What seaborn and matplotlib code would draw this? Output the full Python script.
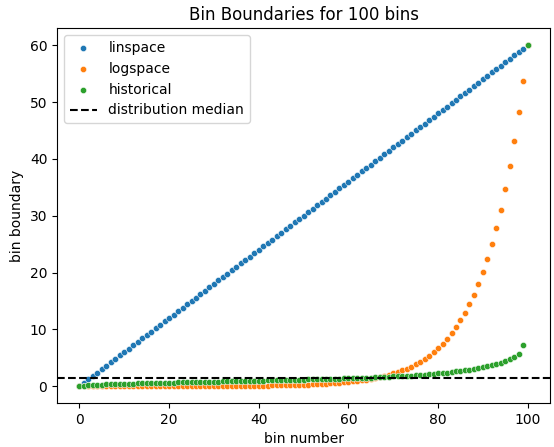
import pandas as pd
import seaborn as sns
import matplotlib.pyplot as plt

# valores
bin_number = list(range(101))

linspace = [0.0, 0.6, 1.2, 1.8, 2.4, 3.0, 3.6, 4.2, 4.8, 5.4,
            6.0, 6.6, 7.2, 7.8, 8.4, 9.0, 9.6, 10.2, 10.8, 11.4,
            12.0, 12.6, 13.2, 13.8, 14.4, 15.0, 15.6, 16.2, 16.8, 17.4,
            18.0, 18.6, 19.2, 19.8, 20.4, 21.0, 21.6, 22.2, 22.8, 23.4,
            24.0, 24.6, 25.2, 25.8, 26.4, 27.0, 27.6, 28.2, 28.8, 29.4,
            30.0, 30.6, 31.2, 31.8, 32.4, 33.0, 33.6, 34.2, 34.8, 35.4,
            36.0, 36.6, 37.2, 37.8, 38.4, 39.0, 39.6, 40.2, 40.8, 41.4,
            42.0, 42.6, 43.2, 43.8, 44.4, 45.0, 45.6, 46.2, 46.8, 47.4,
            48.0, 48.6, 49.2, 49.8, 50.4, 51.0, 51.6, 52.2, 52.8, 53.4,
            54.0, 54.6, 55.2, 55.8, 56.4, 57.0, 57.6, 58.2, 58.8, 59.4,
            60.0]

logspace = [0.0, 0.0, 0.0, 0.0, 0.0, 0.0, 0.0, 0.0, 0.0, 0.0,
            0.0, 0.0, 0.0, 0.0, 0.0, 0.0, 0.01, 0.01, 0.01, 0.01,
            0.01, 0.01, 0.01, 0.01, 0.01, 0.02, 0.02, 0.02, 0.02, 0.02,
            0.03, 0.03, 0.03, 0.04, 0.04, 0.05, 0.05, 0.06, 0.06, 0.07,
            0.08, 0.09, 0.10, 0.12, 0.13, 0.14, 0.16, 0.18, 0.20, 0.22,
            0.25, 0.28, 0.31, 0.34, 0.38, 0.43, 0.48, 0.53, 0.60, 0.67,
            0.74, 0.83, 0.93, 1.03, 1.15, 1.29, 1.44, 1.60, 1.79, 1.99,
            2.23, 2.48, 2.77, 3.10, 3.45, 3.85, 4.30, 4.80, 5.36, 5.98,
            6.67, 7.45, 8.31, 9.28, 10.35, 11.56, 12.90, 14.39, 16.06, 17.93,
            20.01, 22.33, 24.93, 27.82, 31.05, 34.65, 38.67, 43.16, 48.17, 53.76,
            60.0]

historical = [0.0, 0.1, 0.15, 0.2, 0.25, 0.28, 0.31, 0.34, 0.37, 0.4,
              0.42, 0.44, 0.46, 0.48, 0.5, 0.52, 0.54, 0.56, 0.58, 0.6,
              0.62, 0.64, 0.66, 0.67, 0.69, 0.7, 0.72, 0.74, 0.75, 0.77,
              0.79, 0.8, 0.82, 0.84, 0.85, 0.87, 0.89, 0.9, 0.92, 0.94,
              0.96, 0.98, 1.0, 1.01, 1.03, 1.05, 1.07, 1.09, 1.11, 1.13,
              1.15, 1.17, 1.19, 1.21, 1.23, 1.26, 1.28, 1.3, 1.33, 1.35,
              1.38, 1.4, 1.43, 1.46, 1.49, 1.52, 1.55, 1.58, 1.62, 1.66,
              1.7, 1.74, 1.78, 1.82, 1.87, 1.92, 1.97, 2.03, 2.09, 2.16,
              2.23, 2.31, 2.39, 2.48, 2.58, 2.68, 2.79, 2.91, 3.04, 3.18,
              3.33, 3.5, 3.69, 3.9, 4.14, 4.42, 4.76, 5.2, 5.7, 7.2,
              60.0]

mediana = 1.45

df = pd.DataFrame({'bin': bin_number, 'linspace': linspace,
                   'logspace': logspace, 'historical': historical})

fig = plt.figure(figsize=(5.54, 4.47), dpi=100)
ax = fig.add_subplot(111)
sns.scatterplot(x='bin', y='linspace', data=df, color='C0', s=20, label='linspace', ax=ax)
sns.scatterplot(x='bin', y='logspace', data=df, color='C1', s=20, label='logspace', ax=ax)
sns.scatterplot(x='bin', y='historical', data=df, color='C2', s=20, label='historical', ax=ax)
ax.axhline(mediana, color='black', linestyle='--', label='distribution median')
plt.title('Bin Boundaries for 100 bins')
plt.xlabel('bin number')
plt.ylabel('bin boundary')
plt.legend(loc='upper left')
plt.subplots_adjust(left=0.103, right=0.993, top=0.937, bottom=0.098)
plt.savefig('out.png')
